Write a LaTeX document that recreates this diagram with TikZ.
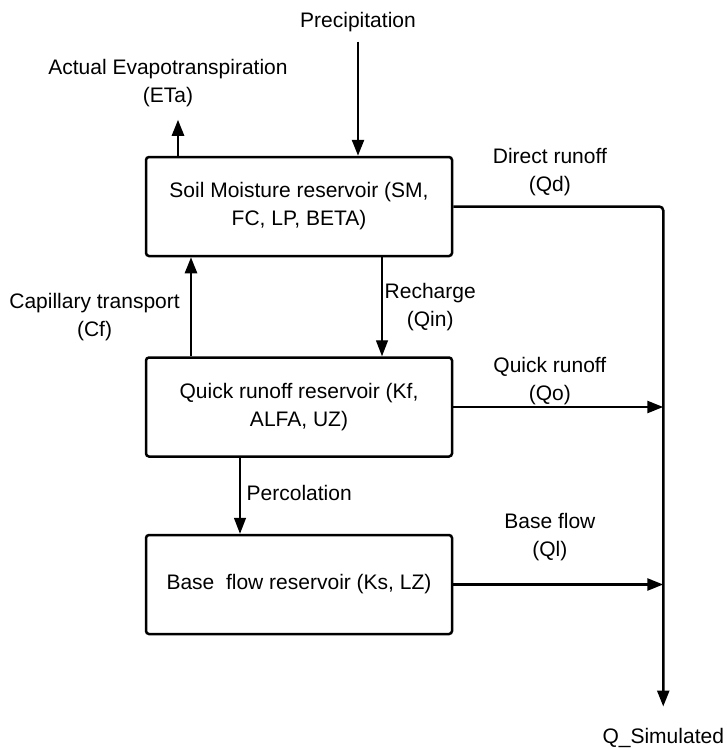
\documentclass[tikz,border=0pt]{standalone}
\usepackage{fontspec}
\setmainfont{Liberation Sans}
\usetikzlibrary{arrows.meta, positioning}

\begin{document}
\begin{tikzpicture}[x=1pt, y=1pt,
    font=\fontsize{21}{28}\selectfont,
    every node/.style={inner sep=1pt, align=center},
    reservoir/.style={draw, line width=2.5pt, rounded corners=3pt,
      minimum width=306pt, minimum height=99pt, inner sep=4pt},
    flow/.style={line width=2.5pt, -{Triangle[length=16pt, width=12pt]}},
    thinflow/.style={line width=1.4pt, -{Triangle[length=16pt, width=12pt]}}]

    \useasboundingbox (0,0) rectangle (726,-749);

    % reservoirs
    \node [reservoir] (sm) at (299,-206.5) {Soil Moisture reservoir (SM,\\FC, LP, BETA)};
    \node [reservoir] (qr) [below=99pt of sm] {Quick runoff reservoir (Kf,\\ALFA, UZ)};
    \node [reservoir] (bf) [below=76pt of qr] {Base\ \ flow reservoir (Ks, LZ)};

    % connection points
    \coordinate (rain) at ([xshift=59pt]sm.north);
    \coordinate (evap) at ([xshift=-121pt]sm.north);
    \coordinate (rech) at ([xshift=83pt]sm.south);
    \coordinate (capi) at ([xshift=-108pt]qr.north);
    \coordinate (perc) at ([xshift=-59pt]qr.south);

    % inputs and outputs
    \node (prec) [above=123pt of rain] {Precipitation};
    \node (eta) [above=48pt of evap, xshift=-10pt] {Actual Evapotranspiration\\(ETa)};
    \node (qsim) [below=143pt of bf.east, xshift=210pt] {Q\_Simulated};

    % fluxes
    \draw [flow, shorten <=9pt] (prec) -- (rain);
    \draw [flow, shorten >=12pt] (evap) -- (evap |- eta.south);
    \draw [flow, rounded corners=4pt, shorten >=21pt] (sm.east)
      -- node [above=8pt, pos=0.46] {Direct runoff\\(Qd)} (sm.east -| qsim) -- (qsim);
    \draw [thinflow] (rech) -- node [right=1pt] {Recharge\\(Qin)} (rech |- qr.north);
    \draw [flow] (capi) -- node [left=9pt, pos=0.4] {Capillary transport\\(Cf)} (capi |- sm.south);
    \draw [flow] (qr.east) -- node [above, pos=0.46] {Quick runoff\\(Qo)} (qr.east -| qsim);
    \draw [thinflow] (perc) -- node [right=5pt, pos=0.47] {Percolation} (perc |- bf.north);
    \draw [flow] (bf.east) -- node [above=21pt, pos=0.46] {Base flow\\(Ql)} (bf.east -| qsim);

\end{tikzpicture}
\end{document}
